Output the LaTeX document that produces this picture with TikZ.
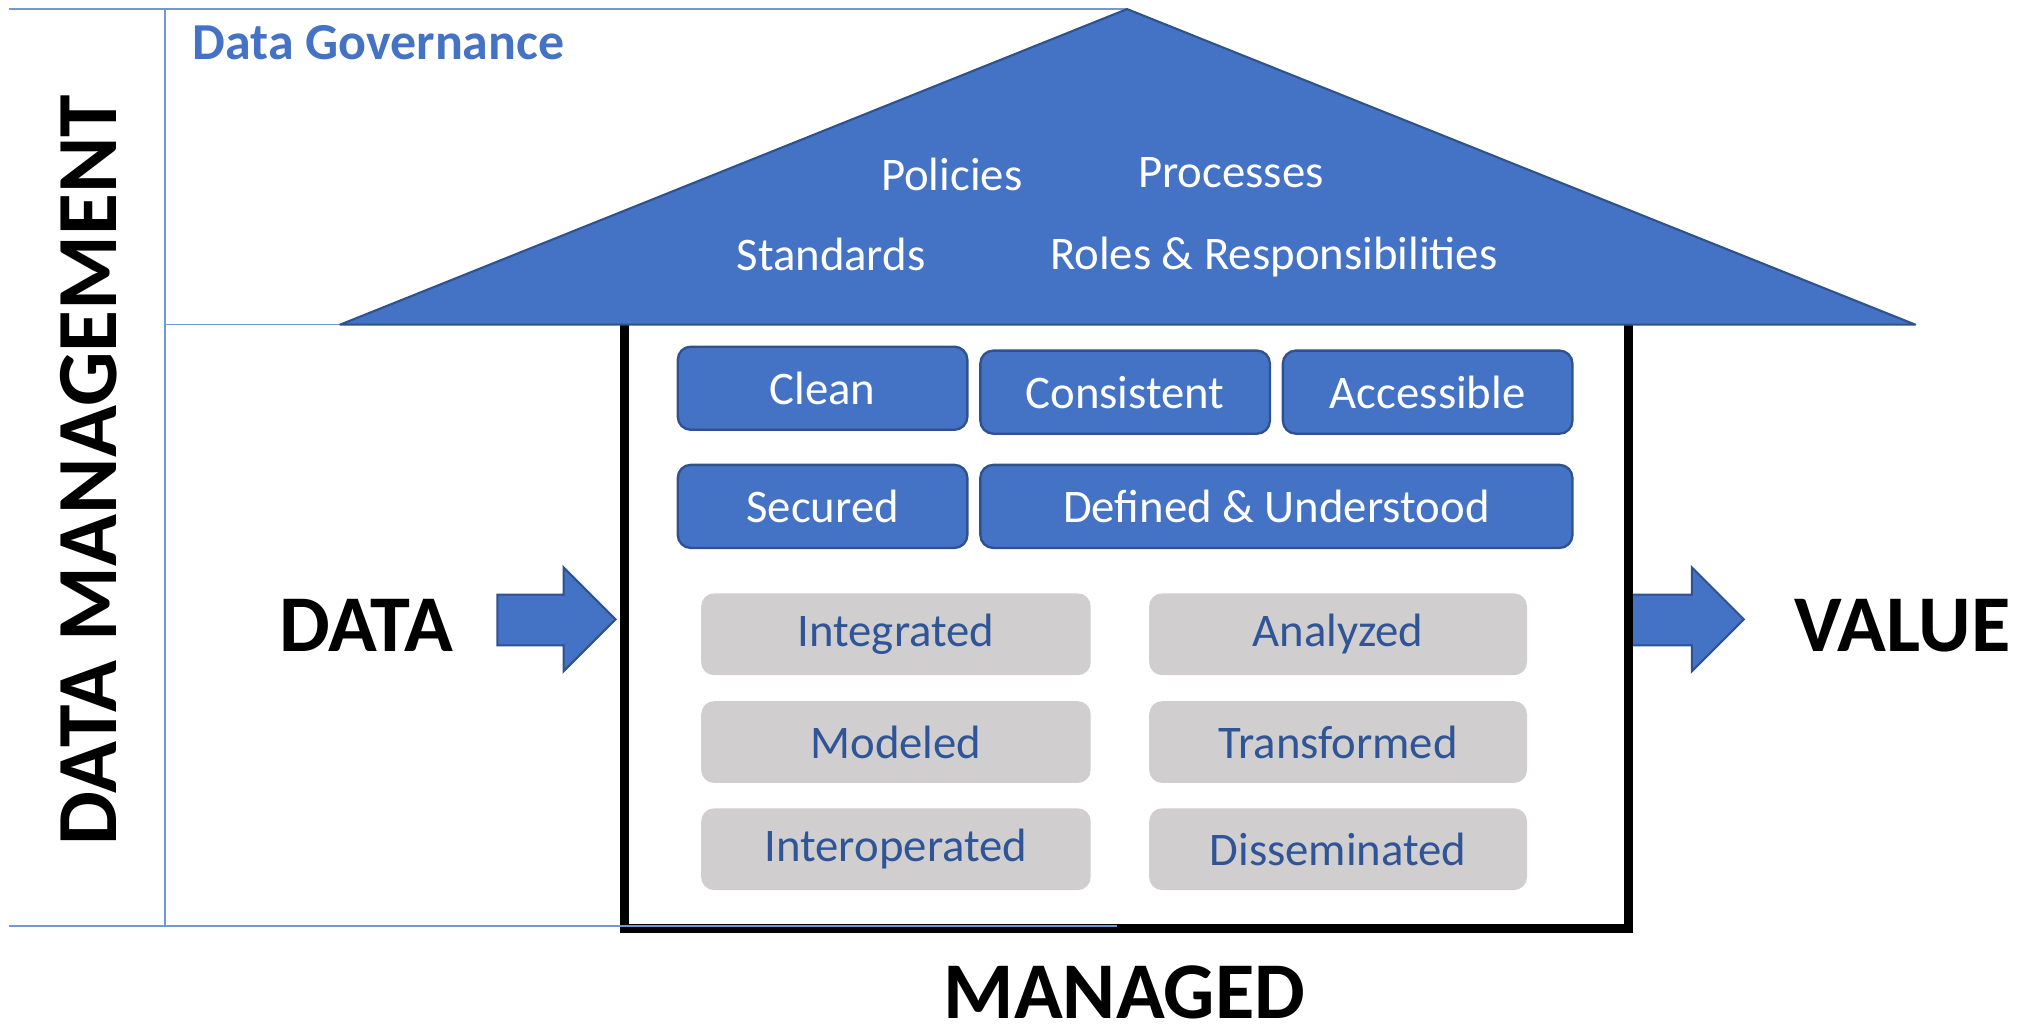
\documentclass[tikz,border=0pt]{standalone}
\usepackage{fontspec}
\setmainfont{Carlito}
\definecolor{mblue}{HTML}{4472C4}
\definecolor{dblue}{HTML}{2F528F}
\definecolor{lblue}{HTML}{7496D2}
\definecolor{gbox}{HTML}{D0CECE}
\definecolor{gtext}{HTML}{2F5597}
\tikzset{
  thinline/.style={draw=lblue, line width=0.6pt},
  bluebox/.style={draw=dblue, line width=0.9pt, fill=mblue, rounded corners=5pt, text=white,
     font=\fontsize{18}{20}\selectfont, minimum height=32pt, inner sep=0pt},
  graybox/.style={fill=gbox, rounded corners=5pt, text=gtext,
     font=\fontsize{18}{20}\selectfont, minimum height=31.5pt, inner sep=0pt},
  rooftext/.style={text=white, font=\fontsize{18}{20}\selectfont, inner sep=0pt},
  bigtext/.style={font=\bfseries\fontsize{31}{34}\selectfont, inner sep=0pt},
  fatarrow/.style={fill=mblue, draw=dblue, line width=0.8pt, line join=miter}
}
\begin{document}
\begin{tikzpicture}[x=0.5pt, y=-0.5pt]
\useasboundingbox (0,0) rectangle (1568,796);
% frame lines
\coordinate (tl) at (7,7);
\coordinate (apexc) at (868,7);
\coordinate (vt) at (127,7);
\coordinate (vb) at (127,714);
\coordinate (ml) at (127,250);
\coordinate (roofl) at (262,250);
\draw[thinline] (tl) -- (apexc);
\draw[thinline] (vt) -- (vb);
\draw[thinline] (ml) -- (roofl);
% house body
\draw[line width=3.6pt, line join=miter] (481,250) -- (481,715) -- (1254,715) -- (1254,250);
\draw[thinline] (7,713) -- (860,713);
% roof
\draw[fill=mblue, draw=dblue, line width=0.8pt, line join=round] (262,250) -- (868,7) -- (1475,250) -- cycle;
\node[rooftext] (pol) at (733,134) {Policies};
\node[rooftext] (pro) at (948,133) {Processes};
\node[rooftext] (std) at (640,196) {Standards};
\node[rooftext] (rol) at (981,198) {Roles \& Responsibilities};
\node[anchor=west, inner sep=0pt, text=mblue, font=\bfseries\fontsize{20}{22}\selectfont] (gov) at (148,33) {Data Governance};
% blue boxes
\node[bluebox, minimum width=111.5pt] (clean) at (633.5,299) {Clean};
\node[bluebox, minimum width=111.5pt] (cons) at (866.5,302) {Consistent};
\node[bluebox, minimum width=111.5pt] (acc) at (1099.5,302) {Accessible};
\node[bluebox, minimum width=111.5pt] (sec) at (633.5,390) {Secured};
\node[bluebox, minimum width=228pt] (def) at (983,390) {Defined \& Understood};
% gray boxes
\node[graybox, minimum width=150pt] (int) at (690,488.5) {Integrated};
\node[graybox, minimum width=145.5pt] (ana) at (1030.5,488.5) {Analyzed};
\node[graybox, minimum width=150pt] (mod) at (690,571.5) {Modeled};
\node[graybox, minimum width=145.5pt] (tra) at (1030.5,571.5) {Transformed};
\node[graybox, minimum width=150pt] (iop) at (690,654) {Interoperated};
\node[graybox, minimum width=145.5pt] (dis) at (1030.5,654) {Disseminated};
% arrows
\draw[fatarrow] (383,458) -- (434,458) -- (434,437) -- (474,477) -- (434,517) -- (434,497) -- (383,497) -- cycle;
\draw[fatarrow] (1257,458) -- (1303,458) -- (1303,437) -- (1343,477) -- (1303,517) -- (1303,497) -- (1257,497);
\draw[line width=3.6pt] (1254,440) -- (1254,520);
% big labels
\node[bigtext] (data) at (282,482) {DATA};
\node[bigtext] (value) at (1465,482) {VALUE};
\node[bigtext] (managed) at (866,764) {MANAGED};
\node[inner sep=0pt, rotate=90, font=\bfseries\fontsize{33}{36}\selectfont] (dm) at (68,362) {DATA MANAGEMENT};
\end{tikzpicture}
\end{document}
